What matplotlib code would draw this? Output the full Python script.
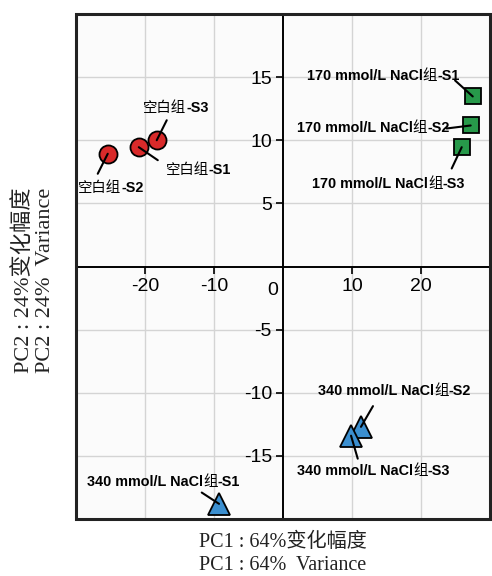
import matplotlib
matplotlib.use("Agg")
import matplotlib.pyplot as plt
from matplotlib.patches import Rectangle

plt.rcParams["axes.unicode_minus"] = False

# PCA scores (PC1, PC2) for each sample, order S1, S2, S3
samples = ["-S1", "-S2", "-S3"]
blank_pc1 = [-20.9, -25.4, -18.3]
blank_pc2 = [9.45, 8.93, 10.0]
na170_pc1 = [27.5, 27.2, 25.9]
na170_pc2 = [13.47, 11.17, 9.45]
na340_pc1 = [-9.27, 11.3, 9.86]
na340_pc2 = [-18.8, -12.7, -13.4]

x_ticks = [-20, -10, 10, 20]
y_ticks = [-15, -10, -5, 5, 10, 15]

FAM = ["Liberation Sans", "Noto Sans CJK SC"]
SERIF = ["Liberation Serif", "Noto Sans CJK SC"]

fig = plt.figure(figsize=(4.92, 5.76), dpi=100)
ax = fig.add_axes([76 / 492, 1 - 519 / 576, 414 / 492, 505 / 576])
ax.set_xlim(-30, 30)
ax.set_ylim(-20, 20)
ax.set_facecolor("#fbfbfb")

# centred axes through the origin
for side in ("top", "right"):
    ax.spines[side].set_visible(False)
ax.spines["left"].set_position(("data", 0))
ax.spines["bottom"].set_position(("data", 0))
ax.spines["left"].set_linewidth(1.4)
ax.spines["bottom"].set_linewidth(1.4)
ax.add_patch(Rectangle((0, 0), 1, 1, transform=ax.transAxes, fill=False,
                       lw=2.2, ec="#222222", clip_on=False, zorder=10))

ax.set_xticks(x_ticks)
ax.set_yticks(y_ticks)
ax.tick_params(direction="out", length=5, width=1.2, labelsize=14, pad=3)
for lab in ax.get_xticklabels() + ax.get_yticklabels():
    lab.set_family(FAM)
ax.grid(True, color="#d4d4d4", lw=1.0)
ax.set_axisbelow(True)
ax.annotate("0", xy=(0, 0), xytext=(-10, -24), textcoords="offset pixels",
            ha="center", va="center", fontsize=14, family=FAM)

ax.plot(blank_pc1, blank_pc2, "o", ms=13, mfc="#d92a2a", mec="black", mew=1.3,
        ls="none", zorder=4)
ax.plot(na170_pc1, na170_pc2, "s", ms=11.5, mfc="#27994a", mec="black", mew=1.3,
        ls="none", zorder=4)
ax.plot(na340_pc1, na340_pc2, "^", ms=15.5, mfc="#3b8fd0", mec="black", mew=1.3,
        ls="none", zorder=4)


def put_label(xy, parts, text_off, line_off):
    ax.annotate("", xy=xy, xytext=line_off, textcoords="offset pixels",
                arrowprops=dict(arrowstyle="-", lw=1.5, color="black",
                                shrinkA=0, shrinkB=0), zorder=6)
    prev = None
    for txt, bold in parts:
        kw = dict(ha="left", fontsize=10.4, family=FAM,
                  fontweight="bold" if bold else "normal", zorder=7)
        if prev is None:
            prev = ax.annotate(txt, xy=xy, xytext=text_off,
                               textcoords="offset pixels", va="baseline", **kw)
        else:
            prev = ax.annotate(txt, xy=(1, 0), xycoords=prev, va="bottom", **kw)


blank_text = [(27, -27), (-29.7, -38.4), (-13.7, 28)]
blank_line = [(19, -13), (-10, -20), (10, 20)]
na170_text = [(-166, 16), (-173.7, -6.7), (-149.7, -41.3)]
na170_line = [(-17.7, 16), (-24, -3), (-10, -21.3)]
na340_text = [(-132, 18.3), (-43, 31.7), (-54, -39)]
na340_line = [(-17.3, 11.3), (12, 20.7), (6.7, -23)]

for i, s in enumerate(samples):
    put_label((blank_pc1[i], blank_pc2[i]), [("空白组", False), (s, True)],
              blank_text[i], blank_line[i])
    put_label((na170_pc1[i], na170_pc2[i]),
              [("170 mmol/L NaCl", True), ("组", False), (s, True)],
              na170_text[i], na170_line[i])
    put_label((na340_pc1[i], na340_pc2[i]),
              [("340 mmol/L NaCl", True), ("组", False), (s, True)],
              na340_text[i], na340_line[i])

fig.text(283 / 492, 1 - 554 / 576, "PC1 : 64%变化幅度\nPC1 : 64%  Variance",
         ha="center", va="center", multialignment="center", fontsize=14.5,
         family=SERIF, linespacing=1.3, color="#222222")
fig.text(34 / 492, 1 - 280 / 576, "PC2 : 24%变化幅度\nPC2 : 24%  Variance",
         ha="center", va="center", multialignment="center", fontsize=16,
         family=SERIF, linespacing=1.2, rotation=90, color="#222222")

fig.savefig("out.png", dpi=100, facecolor="white")
